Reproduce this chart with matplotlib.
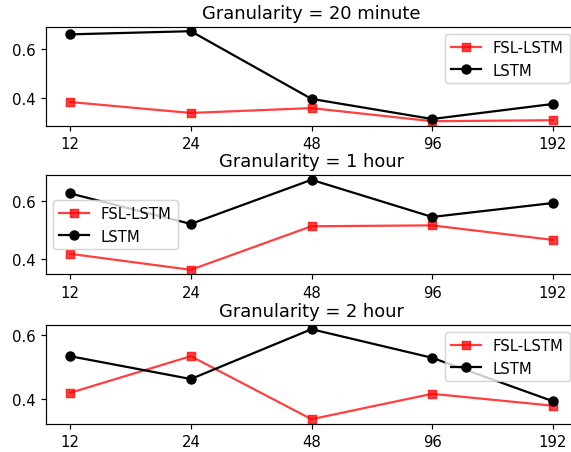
import matplotlib
matplotlib.use("Agg")
import matplotlib.pyplot as plt

horizons = ["12", "24", "48", "96", "192"]
titles = ["Granularity = 20 minute", "Granularity = 1 hour", "Granularity = 2 hour"]

fsl_20min = [0.383, 0.338, 0.358, 0.304, 0.308]
lstm_20min = [0.662, 0.675, 0.396, 0.313, 0.375]

fsl_1h = [0.418, 0.363, 0.513, 0.516, 0.466]
lstm_1h = [0.626, 0.521, 0.673, 0.545, 0.593]

fsl_2h = [0.419, 0.533, 0.337, 0.416, 0.379]
lstm_2h = [0.533, 0.462, 0.617, 0.528, 0.393]

fsl_series = [fsl_20min, fsl_1h, fsl_2h]
lstm_series = [lstm_20min, lstm_1h, lstm_2h]
legend_locs = ["upper right", "center left", "upper right"]

DPI = 107
W, H = 571, 453
fig = plt.figure(figsize=(W / DPI, H / DPI), dpi=DPI)

left = 46 / W
width = (577 - 46) / W
tops = [27.7, 176.3, 325.7]
ax_h = 99.0

x = list(range(len(horizons)))
for i in range(3):
    bottom = 1 - (tops[i] + ax_h) / H
    ax = fig.add_axes([left, bottom, width, ax_h / H])
    ax.plot(x, fsl_series[i], marker="s", color="red", alpha=0.75, label="FSL-LSTM")
    ax.plot(x, lstm_series[i], marker="o", color="black", label="LSTM")
    ax.set_xticks(x)
    ax.set_xticklabels(horizons)
    ax.set_yticks([0.4, 0.6])
    ax.set_yticklabels(["0.4", "0.6"])
    ax.set_title(titles[i])
    ax.legend(loc=legend_locs[i])

fig.savefig("out.png", dpi=DPI)
